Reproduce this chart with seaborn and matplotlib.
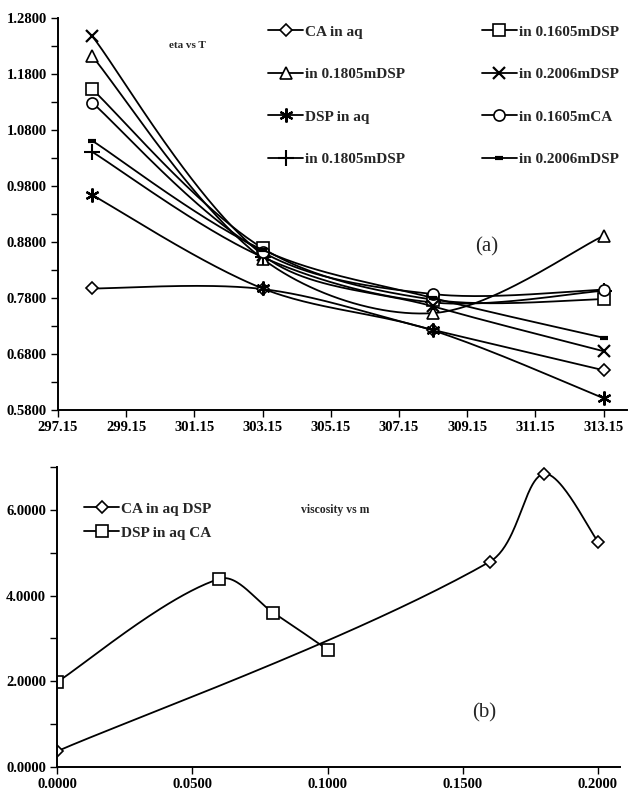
import numpy as np
import matplotlib
matplotlib.use("Agg")
import matplotlib.pyplot as plt
from matplotlib.lines import Line2D
from matplotlib.ticker import FormatStrFormatter
import seaborn as sns

sns.set_theme(style="white")
plt.rcParams["font.family"] = ["Liberation Serif", "DejaVu Serif"]

# ---- (a) viscosity eta vs temperature T ----
temps = [298.15, 303.15, 308.15, 313.15]
eta_ca_aq = [0.797, 0.796, 0.723, 0.651]
eta_01605_dsp = [1.153, 0.869, 0.777, 0.778]
eta_01805_dsp_a = [1.212, 0.850, 0.753, 0.891]
eta_02006_dsp_a = [1.248, 0.857, 0.765, 0.685]
eta_dsp_aq = [0.964, 0.797, 0.722, 0.601]
eta_01605_ca = [1.129, 0.862, 0.787, 0.795]
eta_01805_dsp_b = [1.041, 0.853, 0.772, 0.793]
eta_02006_dsp_b = [1.061, 0.866, 0.780, 0.709]

# ---- (b) viscosity vs molality m ----
m_ca = [0.0, 0.16, 0.18, 0.20]
visc_ca_in_dsp = [0.366, 4.79, 6.84, 5.26]
m_dsp = [0.0, 0.06, 0.08, 0.10]
visc_dsp_in_ca = [1.98, 4.39, 3.60, 2.74]


def smooth_curve(xs, ys, sx, sy, n=50):
    """Cubic Bezier smoothing through the points. Tangents follow neighbouring
    points, weighted by chord length, in screen-like units."""
    P = np.column_stack([np.asarray(xs, float) * sx, np.asarray(ys, float) * sy])
    ext = np.vstack([P[0], P, P[-1]])
    t = np.linspace(0, 1, n)[:, None]
    parts = []
    for i in range(len(P) - 1):
        p0, p1, p2, p3 = ext[i], ext[i + 1], ext[i + 2], ext[i + 3]
        d01 = np.linalg.norm(p1 - p0)
        d12 = np.linalg.norm(p2 - p1)
        d23 = np.linalg.norm(p3 - p2)
        w1 = d12 / (d01 + d12) if d01 > 0 else 0.5
        w2 = d12 / (d12 + d23) if d23 > 0 else 0.5
        c1 = p1 + (p2 - p0) * w1 / 3.0
        c2 = p2 - (p3 - p1) * w2 / 3.0
        seg = (1 - t) ** 3 * p1 + 3 * (1 - t) ** 2 * t * c1 + 3 * (1 - t) * t ** 2 * c2 + t ** 3 * p2
        parts.append(seg if i == 0 else seg[1:])
    c = np.vstack(parts)
    return c[:, 0] / sx, c[:, 1] / sy


def draw_series(ax, xs, ys, sx, sy, mstyle):
    cx, cy = smooth_curve(xs, ys, sx, sy)
    sns.lineplot(x=cx, y=cy, ax=ax, sort=False, estimator=None, color="black",
                 linewidth=1.3)
    sns.lineplot(x=xs, y=ys, ax=ax, sort=False, estimator=None, color="black",
                 linestyle="", **mstyle)


def mk(marker, size, mew=1.2):
    return dict(marker=marker, markersize=size, markeredgecolor="black",
                markeredgewidth=mew, markerfacecolor="white")


W, H = 628, 791
fig = plt.figure(figsize=(W / 100, H / 100), dpi=100)
fig.patch.set_facecolor("white")

ax1 = fig.add_axes([58 / W, 1 - 410 / H, (627 - 58) / W, (410 - 18) / H])
ax2 = fig.add_axes([57 / W, 1 - 767 / H, (620 - 57) / W, (767 - 467) / H])

styles_a = [
    ("CA in aq", eta_ca_aq, mk("D", 6.5)),
    ("in 0.1805mDSP", eta_01805_dsp_a, mk("^", 9)),
    ("DSP in aq", eta_dsp_aq, mk((6, 2, 0), 10, mew=1.6)),
    ("in 0.1805mDSP", eta_01805_dsp_b, mk("+", 11, mew=1.5)),
    ("in 0.1605mDSP", eta_01605_dsp, mk("s", 8)),
    ("in 0.2006mDSP", eta_02006_dsp_a, mk("x", 9, mew=1.6)),
    ("in 0.1605mCA", eta_01605_ca, mk("o", 8)),
    ("in 0.2006mDSP", eta_02006_dsp_b, mk("_", 6, mew=3)),
]

SX1, SY1 = 34.1, 560.0
for label, vals, st in styles_a:
    draw_series(ax1, temps, vals, SX1, SY1, st)

ax1.set_xlim(297.15, 297.15 + (627 - 58) / SX1)
ax1.set_ylim(0.58, 1.28)
ax1.set_xticks(np.arange(297.15, 313.2, 2.0))
ax1.xaxis.set_major_formatter(FormatStrFormatter("%.2f"))
ax1.set_yticks(np.arange(0.58, 1.2801, 0.1))
ax1.set_yticks(np.arange(0.63, 1.28, 0.1), minor=True)
ax1.yaxis.set_major_formatter(FormatStrFormatter("%.4f"))

handles_a = [Line2D([0], [0], color="black", linewidth=1.3, **st) for _, _, st in styles_a]
labels_a = [lab for lab, _, _ in styles_a]
ax1.legend(handles_a, labels_a, ncol=2, frameon=False, loc="upper left",
           bbox_to_anchor=(268 / W, 1 - 25 / H), bbox_transform=fig.transFigure,
           borderpad=0, borderaxespad=0, handlelength=2.3, handletextpad=0.15,
           labelspacing=1.88, columnspacing=5.0,
           prop=dict(family="Liberation Serif", size=11, weight="bold"))

fig.text(187 / W, 1 - 46 / H, "eta vs T", fontsize=8, ha="center", va="center",
         fontweight="bold")
fig.text(487 / W, 1 - 247 / H, "(a)", fontsize=15, ha="center", va="center")

# ---- (b) ----
SX2, SY2 = 2705.0, 42.9
styles_b = [
    ("CA in aq DSP", m_ca, visc_ca_in_dsp, mk("D", 6.5)),
    ("DSP in aq CA", m_dsp, visc_dsp_in_ca, mk("s", 9)),
]
for label, xs, vals, st in styles_b:
    draw_series(ax2, xs, vals, SX2, SY2, st)

ax2.set_xlim(0, (620 - 57) / SX2)
ax2.set_ylim(0, 7)
ax2.set_xticks([0.0, 0.05, 0.10, 0.15, 0.20])
ax2.xaxis.set_major_formatter(FormatStrFormatter("%.4f"))
ax2.set_yticks([0, 2, 4, 6])
ax2.set_yticks([1, 3, 5, 7], minor=True)
ax2.yaxis.set_major_formatter(FormatStrFormatter("%.4f"))

handles_b = [Line2D([0], [0], color="black", linewidth=1.3, **st) for _, _, _, st in styles_b]
ax2.legend(handles_b, [s[0] for s in styles_b], frameon=False, loc="upper left",
           bbox_to_anchor=(84 / W, 1 - 502 / H), bbox_transform=fig.transFigure,
           borderpad=0, borderaxespad=0, handlelength=2.3, handletextpad=0.15,
           labelspacing=0.68,
           prop=dict(family="Liberation Serif", size=11, weight="bold"))

fig.text(335 / W, 1 - 510 / H, "viscosity vs m", fontsize=8.5, ha="center",
         va="center", fontweight="bold")
fig.text(484 / W, 1 - 713 / H, "(b)", fontsize=15, ha="center", va="center")

for ax in (ax1, ax2):
    ax.set_facecolor("white")
    ax.grid(False)
    ax.set_xlabel("")
    ax.set_ylabel("")
    for side in ("top", "right"):
        ax.spines[side].set_visible(False)
    for side in ("left", "bottom"):
        ax.spines[side].set_color("black")
        ax.spines[side].set_linewidth(1.4)
    ax.tick_params(which="both", direction="out", colors="black", width=1.0,
                   left=True, bottom=True)
    ax.tick_params(which="major", length=5, labelsize=10.5, pad=3)
    ax.tick_params(which="minor", length=5)
    for lab in ax.get_xticklabels() + ax.get_yticklabels():
        lab.set_fontweight("bold")

fig.savefig("out.png", dpi=100, facecolor="white")
